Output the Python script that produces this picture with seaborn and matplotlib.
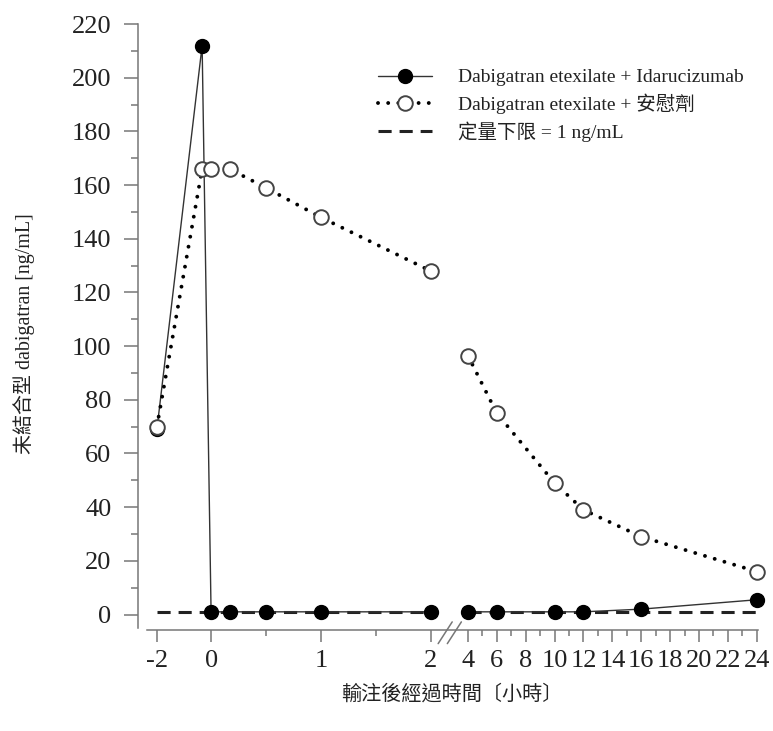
import numpy as np
import pandas as pd
import matplotlib
matplotlib.use('Agg')
import matplotlib.pyplot as plt
from matplotlib.lines import Line2D
import seaborn as sns

# data (hours, ng/mL)
time_early = [-2, -0.33, 0, 0.17, 0.5, 1, 2]
time_late = [4, 6, 10, 12, 16, 24]
ida_early = [69, 212, 1, 1, 1, 1, 1]
ida_late = [1, 1, 1, 1, 2, 5.5]
pbo_early = [70, 166, 166, 166, 159, 148, 128]
pbo_late = [96.5, 75, 49, 39, 29, 16]
lloq = 1

x_major = [-2, 0, 1, 2, 4, 6, 8, 10, 12, 14, 16, 18, 20, 22, 24]
x_minor = [0.5, 1.5] + list(range(5, 24, 2))
x_labels = ['-2', '0', '1', '2', '4', '6', '8', '10', '12', '14', '16', '18', '20', '22', '24']

legend_labels = ['Dabigatran etexilate + Idarucizumab',
                 'Dabigatran etexilate + 安慰劑',
                 '定量下限 = 1 ng/mL']

sns.set_theme(style='ticks')
plt.rcParams['font.family'] = ['Liberation Serif', 'Noto Sans CJK TC']
plt.rcParams['axes.unicode_minus'] = False

ink = '#222222'
axis_grey = '#777777'

df_ida = pd.DataFrame({'time': time_early + time_late, 'conc': ida_early + ida_late,
                       'seg': [0] * len(time_early) + [1] * len(time_late)})
df_pbo = pd.DataFrame({'time': time_early + time_late, 'conc': pbo_early + pbo_late,
                       'seg': [0] * len(time_early) + [1] * len(time_late)})

fig = plt.figure(figsize=(7.73, 7.31), dpi=100)
ax = fig.add_axes([0.190, 0.141, 0.790, 0.826])

# broken time axis: compressed pre-dose, gap 2-4 h, compressed late part
T_KNOTS = [-50, -2, 0, 2, 4, 24, 200]
U_KNOTS = [-0.493 - 48 * 0.247, -0.493, 0, 2, 2.338, 4.968, 4.968 + 176 * 0.1315]


def fwd(t):
    return np.interp(t, T_KNOTS, U_KNOTS)


def inv(u):
    return np.interp(u, U_KNOTS, T_KNOTS)


# LLOQ line
for seg in (time_early, time_late):
    ax.plot([min(seg), max(seg)], [lloq, lloq], color=ink, lw=2.2,
            linestyle=(0, (4.3, 2.6)), zorder=2, clip_on=False)

sns.lineplot(data=df_ida, x='time', y='conc', units='seg', estimator=None, ax=ax,
             color='#333333', lw=1.0, marker='o', markersize=10,
             markerfacecolor='black', markeredgecolor='black', markeredgewidth=1,
             zorder=3, legend=False, clip_on=False)
sns.lineplot(data=df_pbo, x='time', y='conc', units='seg', estimator=None, ax=ax,
             color='black', lw=2.8, linestyle=(0, (0.01, 2.6)), dash_capstyle='round',
             marker='o', markersize=10.5, markerfacecolor='white',
             markeredgecolor='#444444', markeredgewidth=1.4, zorder=4, legend=False,
             clip_on=False)

ax.set_xscale('function', functions=(fwd, inv))
ax.set_xlim(-2.37, 24.05)
ax.set_ylim(-5, 220)

ax.set_xticks(x_major)
ax.set_xticklabels(x_labels)
ax.set_xticks(x_minor, minor=True)
ax.set_yticks(range(0, 221, 20))
ax.set_yticks(range(10, 220, 20), minor=True)

ax.tick_params(axis='both', which='both', direction='out', color=axis_grey,
               width=1.1, labelsize=19, labelcolor=ink)
ax.tick_params(axis='y', which='major', length=10, pad=9)
ax.tick_params(axis='y', which='minor', length=5)
ax.tick_params(axis='x', which='major', length=8.5, pad=6)
ax.tick_params(axis='x', which='minor', length=4.5)

sns.despine(ax=ax)
ax.spines['left'].set_position(('outward', 6.5))
ax.spines['bottom'].set_position(('outward', 1.5))
for s in ('left', 'bottom'):
    ax.spines[s].set_color(axis_grey)
    ax.spines[s].set_linewidth(1.1)

# axis break marks
for dx in (0.0, 0.015):
    ax.plot([0.477 + dx, 0.5 + dx], [-0.026, 0.010], transform=ax.transAxes,
            color=axis_grey, lw=1.1, clip_on=False)

ax.set_xlabel('輸注後經過時間〔小時〕', fontsize=14.5, color=ink)
ax.set_ylabel('未結合型 dabigatran [ng/mL]', fontsize=14.4, color=ink)
ax.xaxis.set_label_coords(0.5, -0.095)
ax.yaxis.set_label_coords(-0.183, 0.487)

handles = [
    Line2D([], [], color='#333333', lw=1.0, marker='o', markersize=10,
           markerfacecolor='black', markeredgecolor='black'),
    Line2D([], [], color='black', lw=2.8, linestyle=(0, (0.01, 2.6)),
           dash_capstyle='round', marker='o', markersize=10.5,
           markerfacecolor='white', markeredgecolor='#444444', markeredgewidth=1.4),
    Line2D([], [], color=ink, lw=2.2, linestyle=(0, (4.3, 2.6))),
]
leg = ax.legend(handles, legend_labels, loc='upper left', bbox_to_anchor=(0.378, 0.926),
                frameon=False, fontsize=14, handlelength=2.8, handletextpad=1.35,
                labelspacing=0.38, borderpad=0, borderaxespad=0)
for t in leg.get_texts():
    t.set_color(ink)

fig.savefig('out.png', dpi=100)
